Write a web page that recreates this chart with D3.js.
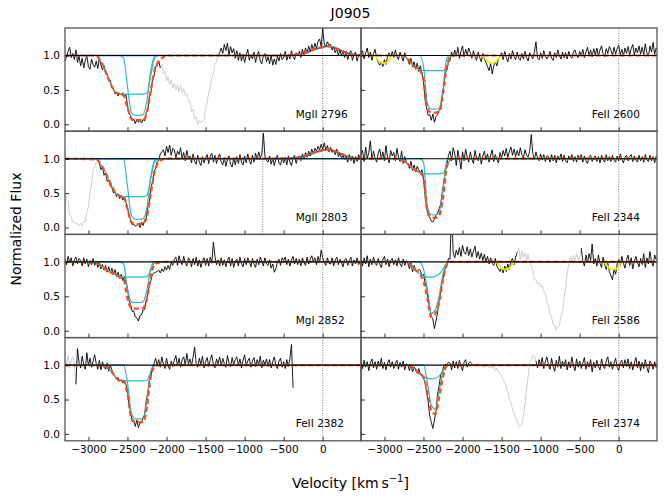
<!DOCTYPE html>
<html><head><meta charset="utf-8">
<script src="https://cdn.jsdelivr.net/npm/d3@7"></script>
<style>body{margin:0;background:#fff}svg{display:block}</style>
</head><body><svg id="c" width="665" height="500"></svg>
<script>
// ---------------- DATA ----------------
const title = "J0905";
const V0 = -3300, DV = 20;           // spectrum grid start and step (km/s)
const xTicks = [-3000,-2500,-2000,-1500,-1000,-500,0];
const yTicks = [0.0,0.5,1.0];
const labelsLeft  = ["MgII 2796","MgII 2803","MgI 2852","FeII 2382"];
const labelsRight = ["FeII 2600","FeII 2344","FeII 2586","FeII 2374"];

// observed flux x100
const flux_MgII2796 = [92,99,106,112,97,103,94,108,90,99, 85,96,82,93,99,84,80,95,87,83, 92,81,96,86,79,85,74,73,66,64, 53,52,44,47,41,45,43,46,40,44, 28,15,13,5,8,1,7,3,6,2, 7,5,17,21,40,47,65,70,84,85, 92,82,87,74,77,63,69,58,64,53, 59,50,57,47,56,46,52,42,45,33, 34,19,22,8,11,0,5,3,4,7, 24,32,47,55,68,74,87,91,101,104, 111,103,116,107,118,101,113,104,110,96, 107,93,104,92,102,90,100,109,93,101, 95,105,90,101,106,92,88,100,103,91, 98,88,101,86,95,87,99,92,103,94, 97,106,93,102,95,107,98,94,104,100, 106,97,109,101,111,103,114,105,116,108, 118,110,121,124,113,140,117,112,120,115, 116,108,113,104,110,100,109,99,107,97, 106,94,103,107,93,101,105,92,100,103];
const flux_MgII2803 = [49,40,37,20,15,7,8,5,6,3, 6,2,9,8,22,30,50,64,84,88, 95,92,93,84,88,76,80,67,70,60, 59,50,52,45,49,42,47,40,45,36, 30,16,12,4,5,2,3,6,0,8, 3,11,14,29,38,57,66,81,86,96, 97,107,110,113,104,118,109,120,105,115, 113,101,111,106,116,100,109,97,112,100, 104,94,107,96,92,105,95,90,103,94, 101,106,93,104,108,95,105,93,102,107, 95,91,102,89,99,104,92,88,101,91, 103,93,106,95,91,104,94,107,97,92, 105,95,108,99,110,101,106,137,104,98, 95,104,92,101,90,100,105,93,91,102, 94,102,91,104,95,90,101,105,93,102, 104,97,107,99,109,102,111,104,114,107, 115,111,118,113,121,114,123,112,119,110, 117,109,112,106,114,103,108,101,105,99, 103,95,106,97,104,93,103,96,106,99];
const flux_MgI2852 = [104,96,108,99,106,94,103,107,97,105, 102,94,106,97,104,93,102,96,105,95, 101,92,99,90,96,88,95,85,93,84, 91,82,89,79,85,76,82,73,79,70, 62,44,38,28,29,20,19,14,22,23, 30,31,44,53,66,73,82,84,85,86, 88,84,90,86,93,88,95,89,99,95, 104,107,95,109,100,96,108,99,94,106, 102,93,105,96,107,94,103,92,101,106, 95,105,94,107,98,129,108,96,103,94, 106,95,103,93,102,107,94,105,92,101, 104,94,107,97,93,105,96,106,101,93, 105,97,92,104,96,107,101,94,106,97, 95,103,91,97,85,90,100,104,95,106, 102,107,96,104,94,103,108,97,105,96, 104,94,106,99,95,107,97,104,109,100, 106,96,108,99,117,106,99,95,106,98, 97,106,94,103,107,96,104,99,93,103, 105,95,102,107,94,103,97,106,96,101];
const flux_FeII2382 = [108,100,114,95,107,112,101,72,124,103, 96,113,101,94,118,99,110,97,106,115, 102,94,107,93,105,97,94,103,91,100, 93,87,85,80,82,76,79,74,78,72, 64,43,32,18,19,11,20,9,16,17, 24,28,48,60,77,84,97,102,110,100, 108,97,112,101,95,110,99,94,106,98, 107,114,99,110,97,108,112,100,117,102, 109,99,112,126,102,97,110,101,113,96, 105,111,98,108,115,100,96,109,102,112, 99,110,102,97,114,103,98,111,101,108, 112,100,109,96,107,115,99,106,110,97, 106,111,98,108,100,113,96,107,101,109, 98,108,96,105,112,99,95,106,110,97, 105,95,108,98,110,130,67];
const flux_FeII2600 = [101,107,95,104,111,97,105,93,102,109, 97,90,86,91,84,94,87,99,104,97, 106,97,108,99,94,105,98,92,104,96, 94,87,96,84,91,80,89,77,85,74, 62,36,24,13,14,6,15,3,11,14, 20,23,42,56,76,79,90,93,105,98, 108,99,112,96,106,114,98,109,101,111, 104,96,107,98,93,105,97,91,103,95, 90,84,78,89,73,85,91,85,95,100, 104,94,106,97,91,103,95,107,99,94, 105,96,93,103,95,106,97,92,104,99, 95,105,120,97,94,104,96,107,100,95, 99,106,96,93,104,97,108,100,95,105, 97,104,95,106,99,96,105,108,100,97, 106,99,109,97,105,112,100,108,98,110, 101,111,99,108,114,102,98,110,103,113, 108,100,112,102,110,115,101,109,99,111, 103,113,101,110,116,100,111,104,114,102, 112,101,117,104,99,114,105,119,102,111];
const flux_FeII2344 = [106,112,96,117,100,109,126,98,111,101, 95,108,114,99,110,97,119,102,94,112, 104,109,97,115,102,96,111,93,103,95, 93,86,96,83,91,81,89,84,79,84, 70,47,29,17,15,9,8,12,18,21, 27,34,51,65,81,91,105,111,97,116, 108,90,112,100,85,110,97,114,102,95, 110,99,93,112,101,97,108,92,104,111, 98,107,95,105,113,96,106,99,94,109, 101,112,104,115,102,111,117,105,114,103, 112,104,116,106,101,113,105,102,111,135, 108,99,110,101,97,107,98,106,96,104, 103,95,106,97,105,94,104,98,107,96, 105,97,94,104,98,106,96,103,95,105, 98,106,95,104,97,93,103,105,96,102, 104,96,103,94,105,98,95,106,97,103, 96,105,98,95,104,97,107,99,94,102, 105,97,103,106,96,104,98,95,105,97, 103,95,106,98,96,105,97,103,94,104];
const flux_FeII2586 = [103,94,106,97,109,93,104,96,107,98, 95,105,97,92,103,108,96,104,93,102, 105,96,103,94,106,97,93,104,95,102, 98,90,99,86,95,88,87,89,88,80, 82,70,62,43,34,20,17,3,14,26, 44,56,72,80,93,95,105,104,180,114, 106,117,110,121,108,124,114,111,122,109, 119,107,116,123,106,115,104,113,102,111, 100,108,97,106,98,95,105,94,90,86, 92,84,94,86,97,89,101,105,96,107, 114,120,103,116,106,113,102,111,100,94, 87,74,74,68,70,64,66,58,54,42, 36,24,20,10,8,1,6,8,20,28, 48,62,84,96,108,102,110,101,112,104, 104,120,102,94,110,99,112,102,126,97, 105,94,110,98,92,107,96,89,98,86, 80,74,90,82,97,104,95,108,98,91, 103,110,95,106,90,101,108,99,93,105, 96,112,92,106,97,115,100,94,110,103];
const flux_FeII2374 = [104,95,107,97,105,92,103,109,96,105, 94,106,98,110,95,104,93,103,108,97, 105,95,103,107,94,104,97,106,93,102, 100,92,101,90,97,95,88,95,86,87, 80,76,60,47,26,17,8,20,33,57, 70,86,90,99,101,101,104,103,93,106, 96,105,95,107,98,92,104,108,97,103, 105,102,101,100,99,103,101,99,98,97, 99,102,96,98,95,98,92,96,89,88, 85,79,75,67,61,51,46,35,31,23, 19,11,11,15,27,44,65,84,103,107, 114,113,106,96,108,99,111,95,105,112, 100,94,110,98,91,107,97,113,95,106, 98,108,93,105,96,112,99,92,109,97, 106,95,103,111,94,105,97,108,90,104, 96,107,98,93,109,99,95,106,112,97, 105,94,103,110,97,92,104,107,96,108, 98,109,95,105,93,103,111,96,106,92, 104,95,108,97,89,106,102,94,105,96];

// masked (grey) velocity ranges
const grey_MgII2796 = [[-2080,-1340]];
const grey_MgII2803 = [[-3300,-2860]];
const grey_MgI2852  = [];
const grey_FeII2382 = [[-3300,-3160]];
const grey_FeII2600 = [];
const grey_FeII2344 = [];
const grey_FeII2586 = [[-1300,-480]];
const grey_FeII2374 = [[-1880,-1060]];

// model velocity grid
const modelV = [-3300,-2900,-2850,-2800,-2750,-2700,-2650,-2600,-2550,-2500,-2450,-2400,-2350,-2300,-2250,-2200,-2150,-2100,-2050,-2000];
// components (broad, narrow) and total model
const broad_MgII2796  = [1,1,0.93,0.82,0.68,0.55,0.46,0.44,0.44,0.44,0.44,0.44,0.44,0.44,0.46,0.72,0.97,1,1,1];
const narrow_MgII2796 = [1,1,1,1,1,1,1,1,0.96,0.55,0.17,0.13,0.13,0.14,0.35,0.8,0.99,1,1,1];
const total_MgII2796  = [1,1,0.93,0.82,0.68,0.55,0.46,0.44,0.42,0.24,0.08,0.06,0.06,0.06,0.18,0.5,0.8,0.92,0.97,1];
const broad_MgII2803  = [1,0.99,0.93,0.84,0.72,0.6,0.5,0.46,0.45,0.45,0.45,0.45,0.45,0.45,0.47,0.72,0.96,1,1,1];
const narrow_MgII2803 = [1,1,1,1,1,1,1,1,0.99,0.6,0.18,0.12,0.12,0.13,0.3,0.75,0.98,1,1,1];
const total_MgII2803  = [1,0.99,0.93,0.84,0.72,0.6,0.5,0.46,0.45,0.27,0.08,0.05,0.05,0.06,0.16,0.5,0.82,0.95,0.99,1];
const broad_MgI2852   = [1,0.99,0.95,0.91,0.87,0.84,0.81,0.79,0.78,0.78,0.78,0.78,0.78,0.78,0.79,0.88,0.99,1,1,1];
const narrow_MgI2852  = [1,1,1,1,1,1,1,1,0.97,0.6,0.42,0.41,0.41,0.42,0.6,0.92,1,1,1,1];
const total_MgI2852   = [1,0.99,0.95,0.91,0.87,0.84,0.81,0.78,0.75,0.47,0.33,0.32,0.32,0.33,0.47,0.8,0.97,0.99,1,1];
const broad_FeII2382  = [1,1,1,0.99,0.96,0.9,0.82,0.77,0.77,0.77,0.77,0.77,0.77,0.77,0.78,0.9,0.99,1,1,1];
const narrow_FeII2382 = [1,1,1,1,1,1,1,1,1,0.75,0.3,0.22,0.22,0.22,0.5,0.92,1,1,1,1];
const total_FeII2382  = [1,1,1,0.99,0.96,0.9,0.82,0.77,0.77,0.58,0.23,0.17,0.17,0.17,0.4,0.85,0.98,1,1,1];
const broad_FeII2600  = [1,1,1,1,0.99,0.95,0.88,0.82,0.79,0.78,0.78,0.78,0.78,0.78,0.78,0.85,0.99,1,1,1];
const narrow_FeII2600 = [1,1,1,1,1,1,1,1,1,0.85,0.3,0.22,0.22,0.23,0.5,0.97,1,1,1,1];
const total_FeII2600  = [1,1,1,1,0.99,0.95,0.88,0.82,0.79,0.66,0.23,0.17,0.17,0.18,0.45,0.85,0.99,1,1,1];
const broad_FeII2344  = [1,1,1,0.99,0.96,0.92,0.87,0.83,0.8,0.78,0.78,0.78,0.78,0.78,0.79,0.9,0.99,1,1,1];
const narrow_FeII2344 = [1,1,1,1,1,1,1,1,1,0.95,0.3,0.19,0.18,0.22,0.55,0.98,1,1,1,1];
const total_FeII2344  = [1,1,1,0.99,0.96,0.92,0.87,0.83,0.8,0.74,0.23,0.15,0.14,0.17,0.43,0.88,0.99,1,1,1];
const broad_FeII2586  = [1,1,1,1,1,0.98,0.94,0.88,0.83,0.8,0.78,0.78,0.79,0.82,0.9,0.98,1,1,1,1];
const narrow_FeII2586 = [1,1,1,1,1,1,1,1,1,0.9,0.6,0.25,0.3,0.5,0.82,0.98,1,1,1,1];
const total_FeII2586  = [1,1,1,1,1,0.98,0.94,0.88,0.83,0.72,0.47,0.2,0.24,0.41,0.74,0.96,1,1,1,1];
const broad_FeII2374  = [1,1,1,1,1,1,0.98,0.93,0.87,0.83,0.81,0.8,0.81,0.84,0.92,0.99,1,1,1,1];
const narrow_FeII2374 = [1,1,1,1,1,1,1,1,1,1,0.75,0.42,0.36,0.62,0.9,1,1,1,1,1];
const total_FeII2374  = [1,1,1,1,1,1,0.98,0.93,0.87,0.83,0.61,0.34,0.29,0.52,0.83,0.99,1,1,1,1];

// MgII emission component
const emisV = [-1900,-500,-400,-300,-200,-100,0,50,100,200,300,400,490];
const emis_MgII2796 = [1,1,1.005,1.02,1.05,1.09,1.125,1.135,1.13,1.09,1.04,1.01,1];
const emis_MgII2803 = [1,1,1.005,1.02,1.05,1.09,1.125,1.135,1.13,1.09,1.04,1.01,1];

// blended-line markers (yellow)
const yellowF = [1,0.97,0.92,0.895,0.89,0.895,0.92,0.97,1];
const yellowV_FeII2600a = [-3130,-3100,-3070,-3040,-3010,-2980,-2950,-2920,-2890];
const yellowV_FeII2600b = [-1745,-1715,-1685,-1655,-1625,-1595,-1565,-1535,-1505];
const yellowV_FeII2586a = [-1570,-1540,-1510,-1480,-1450,-1420,-1390,-1360,-1330];
const yellowV_FeII2586b = [-192,-162,-132,-102,-72,-42,-12,18,48];

// extra dotted marker (MgII 2796 position in MgII 2803 frame)
const extraMark_MgII2803 = [-768];

// --------------- LAYOUT ----------------
const panels = [
 {col:0,row:0,label:labelsLeft[0], flux:flux_MgII2796,grey:grey_MgII2796,b:broad_MgII2796,n:narrow_MgII2796,t:total_MgII2796,emis:emis_MgII2796,yel:[],marks:[]},
 {col:0,row:1,label:labelsLeft[1], flux:flux_MgII2803,grey:grey_MgII2803,b:broad_MgII2803,n:narrow_MgII2803,t:total_MgII2803,emis:emis_MgII2803,yel:[],marks:extraMark_MgII2803},
 {col:0,row:2,label:labelsLeft[2], flux:flux_MgI2852,grey:grey_MgI2852,b:broad_MgI2852,n:narrow_MgI2852,t:total_MgI2852,emis:null,yel:[],marks:[]},
 {col:0,row:3,label:labelsLeft[3], flux:flux_FeII2382,grey:grey_FeII2382,b:broad_FeII2382,n:narrow_FeII2382,t:total_FeII2382,emis:null,yel:[],marks:[]},
 {col:1,row:0,label:labelsRight[0],flux:flux_FeII2600,grey:grey_FeII2600,b:broad_FeII2600,n:narrow_FeII2600,t:total_FeII2600,emis:null,yel:[yellowV_FeII2600a,yellowV_FeII2600b],marks:[]},
 {col:1,row:1,label:labelsRight[1],flux:flux_FeII2344,grey:grey_FeII2344,b:broad_FeII2344,n:narrow_FeII2344,t:total_FeII2344,emis:null,yel:[],marks:[]},
 {col:1,row:2,label:labelsRight[2],flux:flux_FeII2586,grey:grey_FeII2586,b:broad_FeII2586,n:narrow_FeII2586,t:total_FeII2586,emis:null,yel:[yellowV_FeII2586a,yellowV_FeII2586b],marks:[]},
 {col:1,row:3,label:labelsRight[3],flux:flux_FeII2374,grey:grey_FeII2374,b:broad_FeII2374,n:narrow_FeII2374,t:total_FeII2374,emis:null,yel:[],marks:[]},
];

const svg = d3.select("#c");
const FONT = "DejaVu Sans, Liberation Sans, sans-serif";
const colX = [65, 361], panelW = 296;
const top0 = 28, rowH = 103.2;
const C = {black:"#000", grey:"#c8c8c8", cyan:"#2bb8cc", orange:"#ff4a12", blue:"#1f5fa8", yellow:"#eeee00", frame:"#555"};

svg.append("text").attr("x",350.5).attr("y",17.5).attr("text-anchor","middle")
  .attr("font-family",FONT).attr("font-size",14).text(title);
const xl = svg.append("text").attr("x",350.5).attr("y",487.5).attr("text-anchor","middle")
  .attr("font-family",FONT).attr("font-size",14);
xl.append("tspan").text("Velocity [km\u2009s");
xl.append("tspan").attr("font-size",10).attr("dy",-5.5).text("\u22121");
xl.append("tspan").attr("dy",5.5).text("]");
svg.append("text").attr("transform","translate(20.5,229) rotate(-90)").attr("text-anchor","middle")
  .attr("font-family",FONT).attr("font-size",14).text("Normalized Flux");

panels.forEach((p,i)=>{
  const x0 = colX[p.col], yTop = top0 + p.row*rowH;
  const x = d3.scaleLinear().domain([-3300,490]).range([x0, x0+panelW]);
  const y = d3.scaleLinear().domain([-0.1,1.4]).range([yTop+rowH, yTop]);
  const g = svg.append("g");
  const cid = "clip"+i;
  svg.append("clipPath").attr("id",cid).append("rect")
    .attr("x",x0).attr("y",yTop).attr("width",panelW).attr("height",rowH);
  const gc = g.append("g").attr("clip-path",`url(#${cid})`);

  const pts = p.flux.map((f,k)=>({v:V0+k*DV, f:f/100}));
  const inGrey = v => p.grey.some(r=>v>=r[0] && v<=r[1]);
  const strictGrey = v => p.grey.some(r=>v>r[0] && v<r[1]);
  const dline = d3.line().x(d=>x(d.v)).y(d=>y(d.f));
  // grey data
  if (p.grey.length) gc.append("path")
    .attr("d", dline.defined(d=>inGrey(d.v))(pts)).attr("fill","none")
    .attr("stroke",C.grey).attr("stroke-width",0.9);
  // black data
  gc.append("path").attr("d", dline.defined(d=>!strictGrey(d.v))(pts))
    .attr("fill","none").attr("stroke",C.black).attr("stroke-width",0.9);

  // dotted vertical markers
  [0].concat(p.marks).forEach(m=>{
    gc.append("line").attr("x1",x(m)).attr("x2",x(m)).attr("y1",yTop).attr("y2",yTop+rowH)
      .attr("stroke","#555").attr("stroke-width",0.8).attr("stroke-dasharray","1,1.5");
  });

  const mline = d3.line().curve(d3.curveMonotoneX).x(d=>x(d[0])).y(d=>y(d[1]));
  // emission (blue)
  if (p.emis){
    const ev=[-3300].concat(emisV), ef=[1].concat(p.emis);
    gc.append("path").attr("d", mline(ev.map((v,k)=>[v,ef[k]]))).attr("fill","none")
      .attr("stroke",C.blue).attr("stroke-width",1.6);
  }
  // components
  [p.b,p.n].forEach(arr=>{
    const cv = modelV.concat([490]), cf = arr.concat([1]);
    gc.append("path").attr("d", mline(cv.map((v,k)=>[v,cf[k]]))).attr("fill","none")
      .attr("stroke",C.cyan).attr("stroke-width",1.2);
  });
  // yellow
  p.yel.forEach(yv=>{
    gc.append("path").attr("d", mline(yv.map((v,k)=>[v,yellowF[k]]))).attr("fill","none")
      .attr("stroke",C.yellow).attr("stroke-width",1.8);
  });
  // total model
  const tv = modelV.concat(p.emis ? emisV : [490]);
  const tf = p.t.concat(p.emis ? p.emis : [1]);
  gc.append("path").attr("d", mline(tv.map((v,k)=>[v,tf[k]]))).attr("fill","none")
    .attr("stroke",C.orange).attr("stroke-width",2.2).attr("stroke-dasharray","5,3");
  // continuum
  gc.append("line").attr("x1",x0).attr("x2",x0+panelW).attr("y1",y(1)).attr("y2",y(1))
    .attr("stroke",C.black).attr("stroke-width",1.1);

  // frame
  g.append("rect").attr("x",x0).attr("y",yTop).attr("width",panelW).attr("height",rowH)
    .attr("fill","none").attr("stroke",C.frame).attr("stroke-width",1.3);

  // axes
  const xa = d3.axisBottom(x).tickValues(xTicks).tickSizeInner(-4).tickSizeOuter(0).tickPadding(5)
    .tickFormat(p.row===3 ? d3.format("d") : "");
  const gx = g.append("g").attr("transform",`translate(0,${yTop+rowH})`).call(xa);
  const ya = d3.axisLeft(y).tickValues(yTicks).tickSizeInner(-4).tickSizeOuter(0).tickPadding(5)
    .tickFormat(p.col===0 ? d3.format(".1f") : "");
  const gy = g.append("g").attr("transform",`translate(${x0},0)`).call(ya);
  [gx,gy].forEach(a=>{
    a.select(".domain").remove();
    a.selectAll("line").attr("stroke","#000").attr("stroke-width",0.8);
    a.selectAll("text").attr("font-family",FONT).attr("font-size",10.5).attr("fill","#000");
  });

  // label
  g.append("text").attr("x",x0+230.7).attr("y",yTop+rowH-13.5)
    .attr("font-family",FONT).attr("font-size",10.5).attr("fill","#000").text(p.label);
});
</script></body></html>
